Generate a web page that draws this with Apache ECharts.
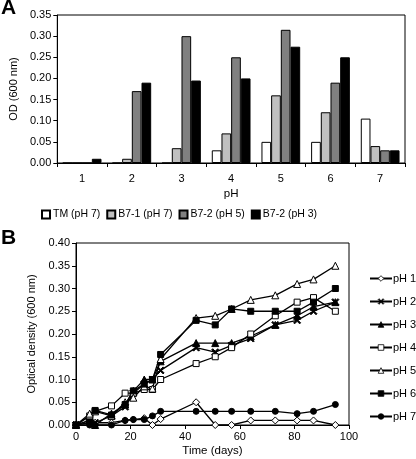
<!DOCTYPE html>
<html><head><meta charset="utf-8">
<script src="https://cdn.jsdelivr.net/npm/echarts@6/dist/echarts.min.js"></script>
<style>html,body{margin:0;padding:0;background:#fff}#c{width:416px;height:459px}</style>
</head><body><div id="c"></div>
<script>
// Panel A data
const phCategories = ['1','2','3','4','5','6','7'];
const tmPH7   = [0, 0, 0, 0.03, 0.05, 0.05, 0.105];
const b71PH7  = [0, 0.01, 0.035, 0.07, 0.16, 0.12, 0.04];
const b72PH5  = [0, 0.17, 0.30, 0.25, 0.315, 0.19, 0.03];
const b72PH3  = [0.01, 0.19, 0.195, 0.20, 0.275, 0.25, 0.03];
const barNames = ['TM (pH 7)', 'B7-1 (pH 7)', 'B7-2 (pH 5)', 'B7-2 (pH 3)'];

// Panel B data
const days = [0, 5, 7, 13, 18, 21, 25, 28, 31, 44, 51, 57, 64, 73, 81, 87, 95];
const pH1 = [0, 0.01, 0.005, 0.005, 0.01, 0.012, 0.015, 0, 0.013, 0.05, 0, 0, 0.01, 0.01, 0.01, 0.01, 0];
const pH2 = [0, 0.01, 0.005, 0.02, 0.04, 0.07, 0.09, 0.10, 0.12, 0.17, 0.16, 0.175, 0.19, 0.22, 0.23, 0.25, 0.27];
const pH3 = [0, 0.02, 0, 0.025, 0.045, 0.075, 0.10, 0.10, 0.14, 0.18, 0.18, 0.18, 0.195, 0.22, 0.24, 0.26, 0.27];
const pH4 = [0, 0.02, 0.03, 0.042, 0.07, 0.07, 0.078, 0.078, 0.10, 0.135, 0.15, 0.17, 0.20, 0.24, 0.27, 0.28, 0.25];
const pH5 = [0, 0.025, 0.03, 0.02, 0.05, 0.06, 0.085, 0.08, 0.145, 0.235, 0.24, 0.255, 0.275, 0.285, 0.31, 0.32, 0.35];
const pH6 = [0, 0.005, 0.032, 0.022, 0.045, 0.075, 0.09, 0.10, 0.155, 0.23, 0.22, 0.255, 0.25, 0.25, 0.25, 0.27, 0.30];
const pH7 = [0, 0, 0, 0, 0.01, 0.012, 0.012, 0.02, 0.03, 0.03, 0.03, 0.03, 0.03, 0.03, 0.025, 0.03, 0.045];
const lineNames = ['pH 1','pH 2','pH 3','pH 4','pH 5','pH 6','pH 7'];

const F = 'Liberation Sans, Arial, sans-serif';
const chart = echarts.init(document.getElementById('c'), null, {renderer:'canvas'});
const barColors = ['#ffffff', '#c0c0c0', '#808080', '#000000'];
const barData = [tmPH7, b71PH7, b72PH5, b72PH3];
const lineData = [pH1, pH2, pH3, pH4, pH5, pH6, pH7];
const X = 'path://M0,1.4L1.4,0L5,3.6L8.6,0L10,1.4L6.4,5L10,8.6L8.6,10L5,6.4L1.4,10L0,8.6L3.6,5Z';
const symbols = [
  {s:'diamond', fill:'#fff', size:7},
  {s:X, fill:'#000', size:7},
  {s:'triangle', fill:'#000', size:7},
  {s:'rect', fill:'#fff', size:6},
  {s:'triangle', fill:'#fff', size:7},
  {s:'rect', fill:'#000', size:6},
  {s:'circle', fill:'#000', size:6}
];

const series = [];
barData.forEach((d, i) => {
  series.push({
    type:'bar', name:barNames[i], xAxisIndex:0, yAxisIndex:0,
    data:d, barGap:'0%', barCategoryGap:'22%',
    itemStyle:{color:barColors[i], borderColor:'#000', borderWidth:1},
    emphasis:{disabled:true}
  });
});
lineData.forEach((d, i) => {
  series.push({
    type:'line', name:lineNames[i], xAxisIndex:1, yAxisIndex:1,
    data: days.map((t, j) => [t, d[j]]),
    symbol:symbols[i].s, symbolSize:symbols[i].size, showAllSymbol:true,
    lineStyle:{color:'#000', width:1.3},
    itemStyle:{color:symbols[i].fill, borderColor:'#000', borderWidth:1},
    emphasis:{disabled:true}, animation:false
  });
});

chart.setOption({
  animation:false,
  backgroundColor:'#fff',
  graphic:[
    {type:'text', left:1, top:-2, style:{text:'A', font:'bold 21px '+F, fill:'#000'}},
    {type:'text', left:1, top:228, style:{text:'B', font:'bold 21px '+F, fill:'#000'}}
  ],
  legend:[
    {
      data:barNames, left:36, top:204, itemWidth:8, itemHeight:8, itemGap:6,
      icon:'rect',
      textStyle:{fontFamily:F, fontSize:10.5, color:'#000', padding:[0,0,0,-2]}
    },
    {
      data:lineNames, orient:'vertical', left:364, top:268, itemWidth:22, itemHeight:7, itemGap:12,
      itemStyle:{borderWidth:0.8},
      textStyle:{fontFamily:F, fontSize:11, color:'#000', padding:[0,0,0,-4]}
    }
  ],
  grid:[
    {left:47, right:11, top:15, height:148, show:true, borderColor:'#000', borderWidth:1, backgroundColor:'transparent'},
    {left:76, right:67, top:243, height:182, show:true, borderColor:'#000', borderWidth:1, backgroundColor:'transparent'}
  ],
  xAxis:[
    {
      type:'category', gridIndex:0, data:phCategories, name:'pH', nameLocation:'middle', nameGap:25,
      nameTextStyle:{fontFamily:F, fontSize:11.5, color:'#000'},
      axisLine:{lineStyle:{color:'#000'}}, axisTick:{show:true, alignWithLabel:false, length:4, lineStyle:{color:'#000'}},
      axisLabel:{fontFamily:F, fontSize:11, color:'#000', margin:10}
    },
    {
      type:'value', gridIndex:1, min:0, max:100, interval:20, name:'Time (days)', nameLocation:'middle', nameGap:20,
      nameTextStyle:{fontFamily:F, fontSize:11.5, color:'#000'},
      axisLine:{lineStyle:{color:'#000'}}, axisTick:{show:true, length:4, lineStyle:{color:'#000'}},
      splitLine:{show:false},
      axisLabel:{fontFamily:F, fontSize:11, color:'#000', margin:6}
    }
  ],
  yAxis:[
    {
      type:'value', gridIndex:0, min:0, max:0.35, interval:0.05, name:'OD (600 nm)', nameLocation:'middle', nameGap:34,
      nameTextStyle:{fontFamily:F, fontSize:11, color:'#000'},
      axisLine:{show:true, lineStyle:{color:'#000'}}, axisTick:{show:true, length:4, lineStyle:{color:'#000'}},
      splitLine:{show:false},
      axisLabel:{fontFamily:F, fontSize:11, color:'#000', margin:6, formatter:v=>v.toFixed(2)}
    },
    {
      type:'value', gridIndex:1, min:0, max:0.40, interval:0.05, name:'Optical density (600 nm)', nameLocation:'middle', nameGap:35,
      nameTextStyle:{fontFamily:F, fontSize:11, color:'#000'},
      axisLine:{show:true, lineStyle:{color:'#000'}}, axisTick:{show:true, length:4, lineStyle:{color:'#000'}},
      splitLine:{show:false},
      axisLabel:{fontFamily:F, fontSize:11, color:'#000', margin:6, formatter:v=>v.toFixed(2)}
    }
  ],
  series:series
});
</script></body></html>
